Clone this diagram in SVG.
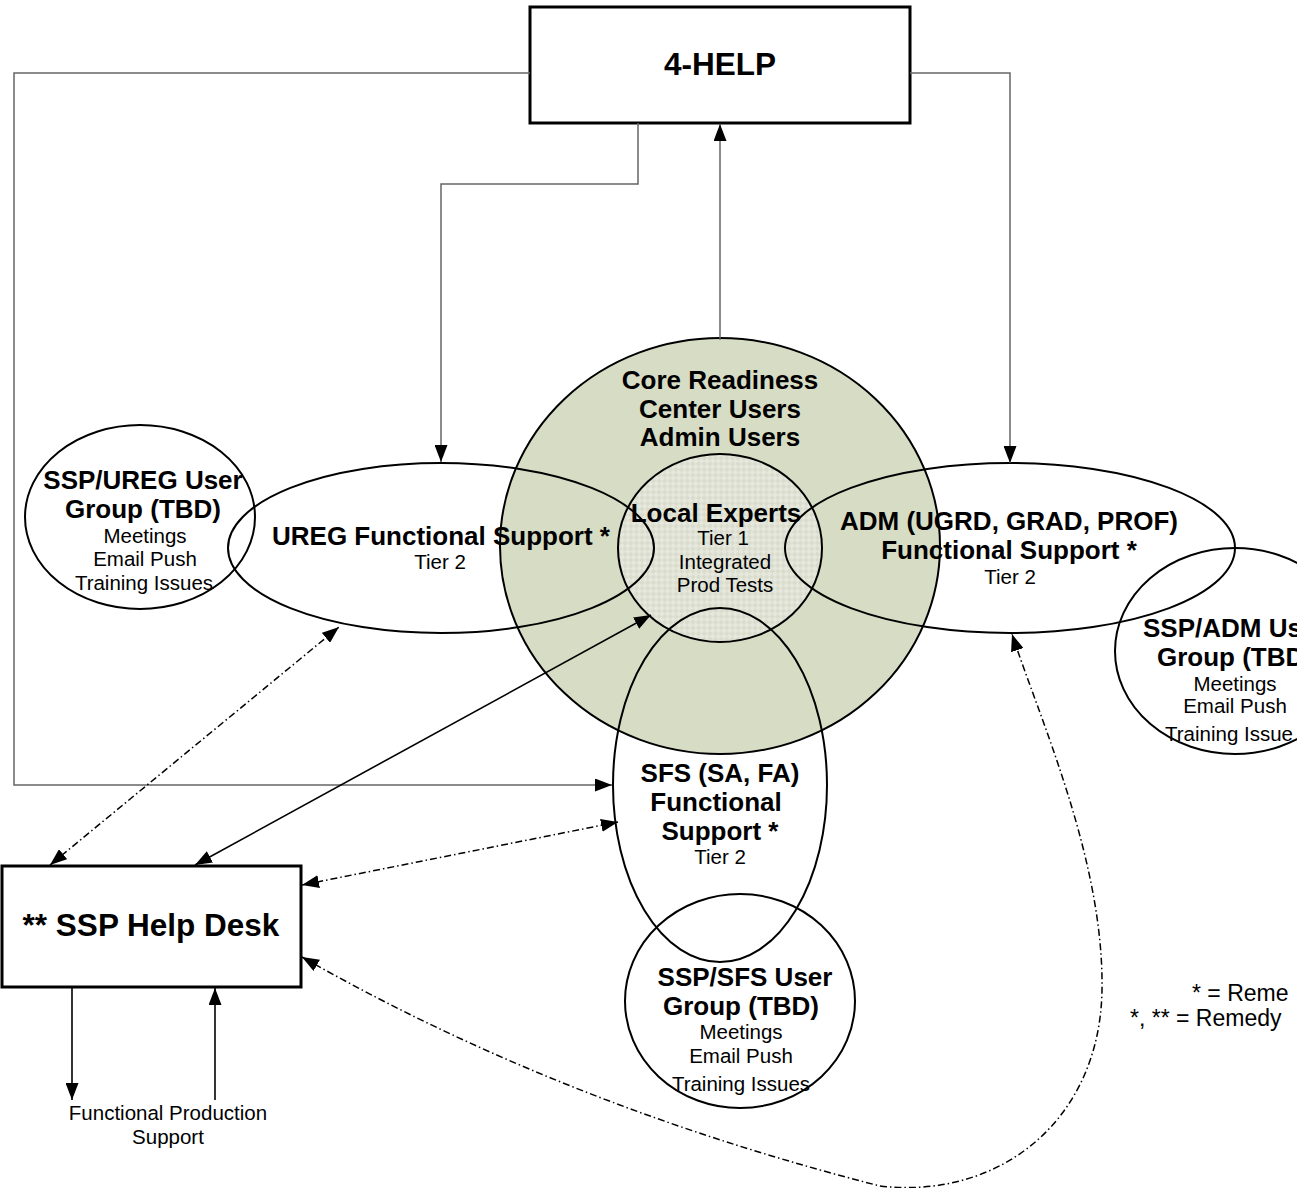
<svg xmlns="http://www.w3.org/2000/svg" width="1314" height="1188" viewBox="0 0 1314 1188">
<defs>
<style>
.b{font-family:"Liberation Sans",Arial,sans-serif;font-weight:bold;font-size:26px;fill:#000;text-anchor:middle}
.r{font-family:"Liberation Sans",Arial,sans-serif;font-size:20.5px;fill:#000;text-anchor:middle}
.lg{font-family:"Liberation Sans",Arial,sans-serif;font-size:23px;fill:#000;text-anchor:start}
.big{font-family:"Liberation Sans",Arial,sans-serif;font-weight:bold;font-size:31.5px;fill:#000;text-anchor:middle}
.s{text-anchor:start}
.ol{fill:none;stroke:#000;stroke-width:2}
.box{fill:#fff;stroke:#000;stroke-width:3}
.ln{fill:none;stroke:#000;stroke-width:1.6}
.gl{fill:none;stroke:#666;stroke-width:1.5}
.dd{fill:none;stroke:#000;stroke-width:1.5;stroke-dasharray:7 3 1.5 3}
</style>
<marker id="ah" markerUnits="userSpaceOnUse" markerWidth="17" markerHeight="13" refX="17" refY="6.5" orient="auto-start-reverse" viewBox="0 0 17 13">
<path d="M0,0 L17,6.5 L0,13 z" fill="#000"/>
</marker>
<pattern id="chk" width="8" height="8" patternUnits="userSpaceOnUse" patternTransform="rotate(45)">
<rect width="8" height="8" fill="#DADDCD"/>
<rect width="4" height="4" fill="#E6E8DD"/>
<rect x="4" y="4" width="4" height="4" fill="#E6E8DD"/>
</pattern>
<clipPath id="cl"><rect x="0" y="0" width="1297" height="1188"/></clipPath>
</defs>
<rect width="1314" height="1188" fill="#fff"/>
<g clip-path="url(#cl)">
<g id="core">
<ellipse cx="720" cy="546" rx="220" ry="208" fill="#D7DCC5" stroke="#000" stroke-width="2"/>
<text class="b" x="720" y="389">Core Readiness</text>
<text class="b" x="720" y="418">Center Users</text>
<text class="b" x="720" y="446">Admin Users</text>
</g>
<g id="local">
<ellipse cx="720" cy="548" rx="102" ry="94" fill="url(#chk)" stroke="#000" stroke-width="2"/>
</g>
<g id="ureg">
<ellipse class="ol" cx="441" cy="548" rx="213" ry="85"/>
<text class="b" x="441" y="545">UREG Functional Support *</text>
<text class="r" x="440" y="569">Tier 2</text>
</g>
<g id="adm">
<ellipse class="ol" cx="1010" cy="548" rx="225" ry="85"/>
<text class="b" x="1009" y="530">ADM (UGRD, GRAD, PROF)</text>
<text class="b" x="1009" y="559">Functional Support *</text>
<text class="r" x="1010" y="584">Tier 2</text>
</g>
<g id="sfs">
<ellipse class="ol" cx="720" cy="785" rx="107" ry="177"/>
<text class="b" x="720" y="782">SFS (SA, FA)</text>
<text class="b" x="716" y="811">Functional</text>
<text class="b" x="720" y="840">Support *</text>
<text class="r" x="720" y="864">Tier 2</text>
</g>
<g id="ssp-ureg">
<ellipse class="ol" cx="140" cy="517" rx="115" ry="92"/>
<text class="b" x="143" y="489">SSP/UREG User</text>
<text class="b" x="143" y="518">Group (TBD)</text>
<text class="r" x="145" y="543">Meetings</text>
<text class="r" x="145" y="566">Email Push</text>
<text class="r" x="144" y="590">Training Issues</text>
</g>
<g id="ssp-adm">
<ellipse class="ol" cx="1235" cy="651" rx="120" ry="103"/>
<text class="b s" x="1143" y="637">SSP/ADM Us</text>
<text class="b s" x="1157" y="666">Group (TBD</text>
<text class="r" x="1235" y="691">Meetings</text>
<text class="r" x="1235" y="713">Email Push</text>
<text class="r s" x="1165" y="741">Training Issue</text>
</g>
<g id="ssp-sfs">
<ellipse class="ol" cx="740" cy="1001" rx="115" ry="107"/>
<text class="b" x="745" y="986">SSP/SFS User</text>
<text class="b" x="741" y="1015">Group (TBD)</text>
<text class="r" x="741" y="1039">Meetings</text>
<text class="r" x="741" y="1063">Email Push</text>
<text class="r" x="741" y="1091">Training Issues</text>
</g>
<g id="local-text">
<text class="b" x="716" y="522">Local Experts</text>
<text class="r" x="723" y="545">Tier 1</text>
<text class="r" x="725" y="569">Integrated</text>
<text class="r" x="725" y="592">Prod Tests</text>
</g>
<g id="four-help">
<rect class="box" x="530" y="7" width="380" height="116"/>
<text class="big" x="720" y="75">4-HELP</text>
</g>
<g id="helpdesk">
<rect class="box" x="2" y="866" width="299" height="121"/>
<text class="big" x="151" y="936">** SSP Help Desk</text>
</g>
<g id="fps">
<text class="r" x="168" y="1120">Functional Production</text>
<text class="r" x="168" y="1144">Support</text>
</g>
<g id="legend">
<text class="lg" x="1192" y="1001">* = Reme</text>
<text class="lg" x="1130" y="1026">*, ** = Remedy</text>
</g>
<g id="connectors">
<polyline class="gl" points="530,73 14,73 14,785 612,785" marker-end="url(#ah)"/>
<polyline class="gl" points="910,73 1010,73 1010,463" marker-end="url(#ah)"/>
<polyline class="gl" points="638,123 638,184 441,184 441,462" marker-end="url(#ah)"/>
<line class="gl" x1="720" y1="340" x2="720" y2="124" marker-end="url(#ah)"/>
<line class="ln" x1="195" y1="865" x2="651" y2="615" marker-start="url(#ah)" marker-end="url(#ah)"/>
<line class="dd" x1="50" y1="865" x2="339" y2="627" marker-start="url(#ah)" marker-end="url(#ah)"/>
<line class="dd" x1="302" y1="885" x2="618" y2="822" marker-start="url(#ah)" marker-end="url(#ah)"/>
<path class="dd" d="M302,957 C500,1070 700,1140 880,1186 C1000,1200 1100,1120 1102,990 C1104,860 1040,720 1012,634" marker-start="url(#ah)" marker-end="url(#ah)"/>
<line class="ln" x1="72" y1="988" x2="72" y2="1100" marker-end="url(#ah)"/>
<line class="ln" x1="215" y1="1100" x2="215" y2="988" marker-end="url(#ah)"/>
</g>
</g>
</svg>
